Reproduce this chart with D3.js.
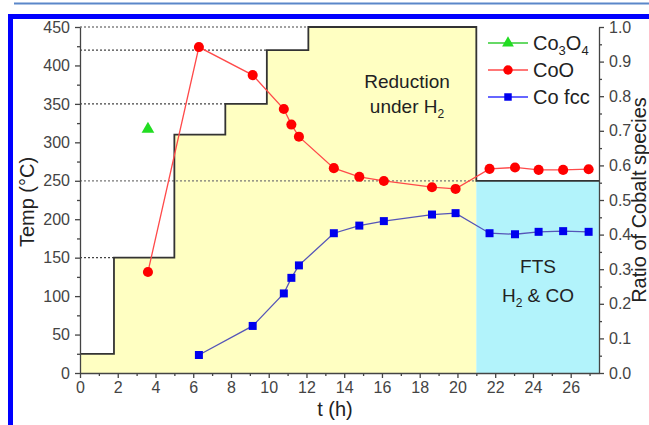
<!DOCTYPE html>
<html><head><meta charset="utf-8">
<script src="https://cdn.jsdelivr.net/npm/d3@7/dist/d3.min.js"></script>
<style>body{margin:0;background:#fff;}svg{display:block;}</style>
</head><body>
<svg id="c" width="649" height="425"></svg>
<script>
// ---- data ----
const stepStart = [0, 1.8, 5.0, 7.7, 9.9, 12.1, 21.0];
const stepTemp  = [25, 150, 310, 350, 420, 450, 250];
const tEnd = 27.5;
const dottedTemps = [150, 250, 350, 420, 450];
const dottedEnds  = [1.8, 21.0, 7.7, 9.9, 12.1];

const co3o4T = [3.6];
const co3o4R = [0.705];
const cooT = [3.6, 6.3, 9.15, 10.8, 11.2, 11.6, 13.45, 14.8, 16.1, 18.65, 19.9, 21.7, 23.05, 24.3, 25.6, 26.95];
const cooR = [0.292, 0.942, 0.861, 0.763, 0.718, 0.683, 0.592, 0.567, 0.555, 0.537, 0.532, 0.590, 0.594, 0.587, 0.587, 0.589];
const cofccT = [6.3, 9.15, 10.8, 11.2, 11.6, 13.45, 14.8, 16.1, 18.65, 19.9, 21.7, 23.05, 24.3, 25.6, 26.95];
const cofccR = [0.052, 0.136, 0.230, 0.275, 0.311, 0.404, 0.426, 0.439, 0.458, 0.462, 0.404, 0.401, 0.408, 0.410, 0.408];

const xTicks = [0,2,4,6,8,10,12,14,16,18,20,22,24,26];
const xMinor = [1,3,5,7,9,11,13,15,17,19,21,23,25,27];
const yTicks = [0,50,100,150,200,250,300,350,400,450];
const yMinor = [25,75,125,175,225,275,325,375,425];
const rTicks = [0,0.1,0.2,0.3,0.4,0.5,0.6,0.7,0.8,0.9,1.0];
const rMinor = [0.05,0.15,0.25,0.35,0.45,0.55,0.65,0.75,0.85,0.95];

const legendNames = ["Co3O4", "CoO", "Co fcc"];

// ---- layout ----
const X0 = 80, X1 = 599, Y0 = 27, Y1 = 373;
const FONT = "Arial, 'Liberation Sans', sans-serif";
const svg = d3.select("#c");
const x = d3.scaleLinear().domain([0, tEnd]).range([X0, X1]);
const y = d3.scaleLinear().domain([0, 450]).range([Y1, Y0]);
const r = d3.scaleLinear().domain([0, 1]).range([Y1, Y0]);

// frame
svg.append("line").attr("x1", 14).attr("x2", 649).attr("y1", 3.5).attr("y2", 3.5)
  .attr("stroke", "#5b87c9").attr("stroke-width", 2);
svg.append("rect").attr("x", 10.5).attr("y", 16.5).attr("width", 660).attr("height", 430)
  .attr("fill", "#fff").attr("stroke", "#0000ff").attr("stroke-width", 5);

// temperature profile
const stepPts = stepStart.map((t, i) => [t, stepTemp[i]]);
stepPts.push([tEnd, stepTemp[stepTemp.length - 1]]);
const redPts = stepPts.filter(p => p[0] <= 21.0);

svg.append("path")
  .datum(redPts)
  .attr("d", d3.area().x(d => x(d[0])).y0(y(0)).y1(d => y(d[1])).curve(d3.curveStepAfter))
  .attr("fill", "#ffffc2");
svg.append("rect")
  .attr("x", x(21.0)).attr("y", y(250)).attr("width", x(tEnd) - x(21.0)).attr("height", y(0) - y(250))
  .attr("fill", "#b2f3fb");

// dotted guide lines
dottedTemps.forEach((tp, i) => {
  svg.append("line").attr("x1", x(0)).attr("x2", x(dottedEnds[i]))
    .attr("y1", y(tp)).attr("y2", y(tp))
    .attr("stroke", tp === 250 ? "#777" : "#444").attr("stroke-width", 1.2)
    .attr("stroke-dasharray", "2,2");
});

svg.append("path")
  .datum(stepPts)
  .attr("d", d3.line().x(d => x(d[0])).y(d => y(d[1])).curve(d3.curveStepAfter))
  .attr("fill", "none").attr("stroke", "#333").attr("stroke-width", 1.8);

// axes
function styleAxis(g) {
  g.selectAll("path.domain").attr("stroke", "#444").attr("stroke-width", 1.3);
  g.selectAll(".tick line").attr("stroke", "#444").attr("stroke-width", 1.3);
  g.selectAll("text").attr("font-family", FONT).attr("font-size", 16).attr("fill", "#444");
}
const gx = svg.append("g").attr("transform", `translate(0,${Y1})`)
  .call(d3.axisBottom(x).tickValues(xTicks).tickSize(5).tickSizeOuter(0).tickPadding(4));
styleAxis(gx);
const gxm = svg.append("g").attr("transform", `translate(0,${Y1})`)
  .call(d3.axisBottom(x).tickValues(xMinor).tickSize(3).tickSizeOuter(0).tickFormat(""));
styleAxis(gxm); gxm.select("path.domain").remove();

const gy = svg.append("g").attr("transform", `translate(${X0},0)`)
  .call(d3.axisLeft(y).tickValues(yTicks).tickSize(5).tickSizeOuter(0).tickPadding(5));
styleAxis(gy);
const gym = svg.append("g").attr("transform", `translate(${X0},0)`)
  .call(d3.axisLeft(y).tickValues(yMinor).tickSize(3).tickSizeOuter(0).tickFormat(""));
styleAxis(gym); gym.select("path.domain").remove();

const gr = svg.append("g").attr("transform", `translate(${X1},0)`)
  .call(d3.axisRight(r).tickValues(rTicks).tickSize(5).tickSizeOuter(0).tickPadding(5).tickFormat(d3.format(".1f")));
styleAxis(gr);
const grm = svg.append("g").attr("transform", `translate(${X1},0)`)
  .call(d3.axisRight(r).tickValues(rMinor).tickSize(3).tickSizeOuter(0).tickFormat(""));
styleAxis(grm); grm.select("path.domain").remove();

// axis titles
function txt(tx, ty, size, rot) {
  return svg.append("text").attr("font-family", FONT).attr("font-size", size)
    .attr("fill", "#222").attr("text-anchor", "middle")
    .attr("transform", `translate(${tx},${ty})` + (rot ? ` rotate(${rot})` : ""));
}
txt(335, 416, 20).text("t (h)");
txt(34, 202, 20, -90).text("Temp (°C)");
txt(646, 200, 20, -90).text("Ratio of Cobalt species");

// annotations
txt(407, 88, 19).text("Reduction");
const uh = txt(407, 113, 19);
uh.append("tspan").text("under H");
uh.append("tspan").attr("font-size", 12).attr("dy", 5).text("2");
txt(538, 273, 19).text("FTS");
const hc = txt(538, 302, 19);
hc.append("tspan").text("H");
hc.append("tspan").attr("font-size", 12).attr("dy", 5).text("2");
hc.append("tspan").attr("dy", -5).text(" & CO");

// series
const line = d3.line();
function series(ts, rs, lineColor, markColor, shape, size) {
  const pts = ts.map((t, i) => [x(t), r(rs[i])]);
  if (pts.length > 1) {
    svg.append("path").datum(pts).attr("d", line).attr("fill", "none")
      .attr("stroke", lineColor).attr("stroke-width", 1.3);
  }
  svg.append("g").selectAll("path").data(pts).join("path")
    .attr("transform", d => `translate(${d[0]},${d[1]})`)
    .attr("d", d3.symbol().type(shape).size(size))
    .attr("fill", markColor);
}
series(cooT, cooR, "#ff4a4a", "#ff0000", d3.symbolCircle, 80);
series(cofccT, cofccR, "#5555b8", "#0000ee", d3.symbolSquare, 64);
series(co3o4T, co3o4R, "#22dd22", "#22dd22", d3.symbolTriangle, 70);

// legend
const legColors = ["#33cc33", "#ff4a4a", "#3333ff"];
const legMark = ["#22dd22", "#ff0000", "#0000ee"];
const legShapes = [d3.symbolTriangle, d3.symbolCircle, d3.symbolSquare];
const legSizes = [60, 70, 56];
legendNames.forEach((nm, i) => {
  const ly = 43 + i * 27;
  svg.append("line").attr("x1", 488).attr("x2", 528).attr("y1", ly).attr("y2", ly)
    .attr("stroke", legColors[i]).attr("stroke-width", 1.3);
  svg.append("path").attr("transform", `translate(508,${ly})`)
    .attr("d", d3.symbol().type(legShapes[i]).size(legSizes[i])).attr("fill", legMark[i]);
  const t = svg.append("text").attr("x", 533).attr("y", ly + 7)
    .attr("font-family", FONT).attr("font-size", 20).attr("fill", "#222");
  if (i === 0) {
    t.append("tspan").text("Co");
    t.append("tspan").attr("font-size", 13).attr("dy", 5).text("3");
    t.append("tspan").attr("dy", -5).text("O");
    t.append("tspan").attr("font-size", 13).attr("dy", 5).text("4");
  } else {
    t.text(nm);
  }
});
</script>
</body></html>
